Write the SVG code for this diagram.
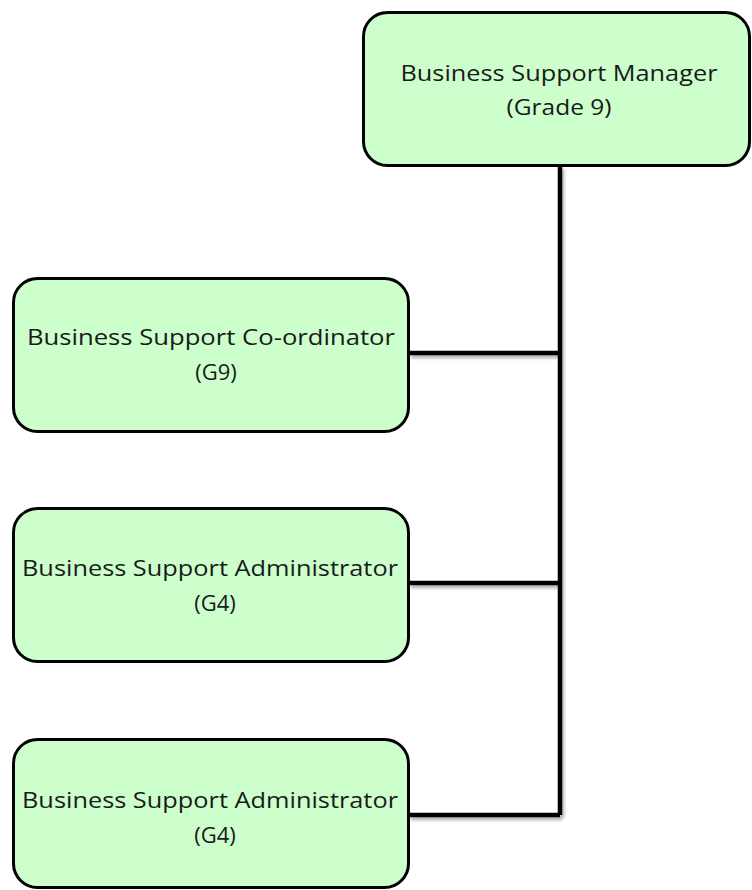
<svg xmlns="http://www.w3.org/2000/svg" width="752" height="890" viewBox="0 0 752 890">
<defs>
<filter id="sh" x="-10%" y="-10%" width="120%" height="120%">
<feGaussianBlur in="SourceAlpha" stdDeviation="1.5"/>
<feOffset dx="2" dy="3"/>
<feComponentTransfer><feFuncA type="linear" slope="0.3"/></feComponentTransfer>
<feMerge><feMergeNode/><feMergeNode in="SourceGraphic"/></feMerge>
</filter>
</defs>
<style>
.box{fill:#ccffcc;stroke:#000;stroke-width:3}
.t{font-family:"Open Sans","Liberation Sans",sans-serif;font-size:22px;fill:#1a1a1a;text-anchor:middle}
.c{fill:none;stroke:#000;stroke-width:4.5}
</style>
<rect width="752" height="890" fill="#fff"/>
<g id="connectors" filter="url(#sh)">
<path class="c" d="M560,166 V815 M409,353 H560 M409,583 H560 M409,815 H560"/>
</g>
<g id="manager">
<rect class="box" x="363.5" y="12.5" width="386" height="153" rx="24"/>
<text class="t" x="559" y="81" textLength="317" lengthAdjust="spacingAndGlyphs">Business Support Manager</text>
<text class="t" x="559" y="115" textLength="105" lengthAdjust="spacingAndGlyphs">(Grade 9)</text>
</g>
<g id="coordinator">
<rect class="box" x="13.5" y="278.5" width="395" height="153" rx="24"/>
<text class="t" x="211" y="345" textLength="368" lengthAdjust="spacingAndGlyphs">Business Support Co-ordinator</text>
<text class="t" x="216" y="380">(G9)</text>
</g>
<g id="admin1">
<rect class="box" x="13.5" y="508.5" width="395" height="153" rx="24"/>
<text class="t" x="210" y="576" textLength="376" lengthAdjust="spacingAndGlyphs">Business Support Administrator</text>
<text class="t" x="215" y="611">(G4)</text>
</g>
<g id="admin2">
<rect class="box" x="13.5" y="739.5" width="395" height="148" rx="24"/>
<text class="t" x="210" y="808" textLength="376" lengthAdjust="spacingAndGlyphs">Business Support Administrator</text>
<text class="t" x="215" y="843">(G4)</text>
</g>
</svg>
